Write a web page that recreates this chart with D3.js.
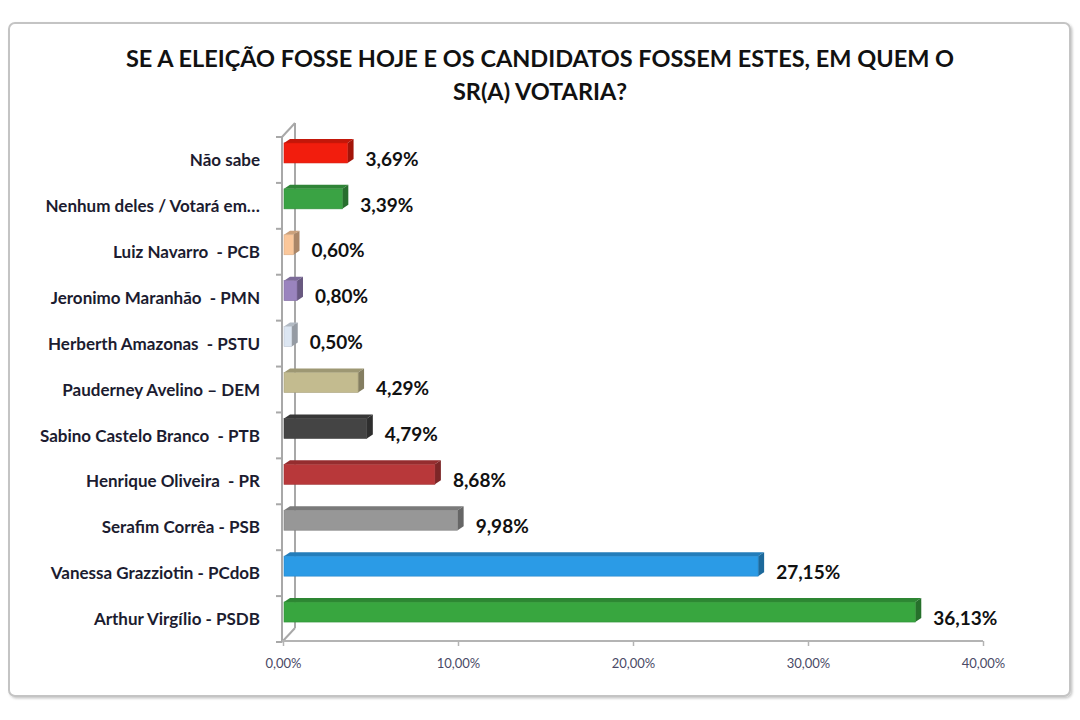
<!DOCTYPE html>
<html lang="pt-BR">
<head>
<meta charset="utf-8">
<title>Se a eleição fosse hoje</title>
<script src="https://cdn.jsdelivr.net/npm/d3@7"></script>
<style>
  html, body { margin: 0; padding: 0; background: #fff; }
  #chart { width: 1080px; height: 720px; }
  .title { font-family: Lato, "Open Sans", sans-serif; font-weight: 700; font-size: 23.5px; fill: #111; }
  .cat-label { font-family: Lato, "Open Sans", sans-serif; font-weight: 700; font-size: 17px; fill: #1c1c30; white-space: pre; }
  .value-label { font-family: Lato, "Open Sans", sans-serif; font-weight: 700; font-size: 19px; fill: #111; }
  .tick-label { font-family: Lato, "Open Sans", sans-serif; font-size: 13px; fill: #4a4a66; }
</style>
</head>
<body>
<div id="chart"></div>
<script>
// values, top row first
const categories = [
  "Não sabe",
  "Nenhum deles / Votará em…",
  "Luiz Navarro  - PCB",
  "Jeronimo Maranhão  - PMN",
  "Herberth Amazonas  - PSTU",
  "Pauderney Avelino – DEM",
  "Sabino Castelo Branco  - PTB",
  "Henrique Oliveira  - PR",
  "Serafim Corrêa - PSB",
  "Vanessa Grazziotin - PCdoB",
  "Arthur Virgílio - PSDB",
];
const values = [3.69, 3.39, 0.6, 0.8, 0.5, 4.29, 4.79, 8.68, 9.98, 27.15, 36.13];
const barColors = [
  "#f21d0d", "#3aa344", "#fbc79a", "#9a84be", "#dce6f2", "#c3bb8f",
  "#444444", "#b8383a", "#979797", "#2b9be6", "#38a63f",
];
const xTicks = [0, 10, 20, 30, 40];
const titleLines = [
  "SE A ELEIÇÃO FOSSE HOJE E OS CANDIDATOS FOSSEM ESTES, EM QUEM O",
  "SR(A) VOTARIA?",
];

const width = 1080;
const height = 720;
const plot = { left: 283, right: 983, top: 137, bottom: 642 };
const wallDepth = { dx: 13, dy: -14 };
const barDepth = { dx: 6, dy: -4 };

const fmt = (v) => d3.format(".2f")(v).replace(".", ",") + "%";

const svg = d3.select("#chart")
  .append("svg")
  .attr("width", width)
  .attr("height", height)
  .attr("viewBox", `0 0 ${width} ${height}`);

const defs = svg.append("defs");
const shadow = defs.append("filter").attr("id", "shadow").attr("x", "-5%").attr("y", "-5%").attr("width", "110%").attr("height", "110%");
shadow.append("feDropShadow").attr("dx", 1.5).attr("dy", 1.5).attr("stdDeviation", 1.3).attr("flood-color", "#000").attr("flood-opacity", 0.22);

// chart frame
svg.append("rect")
  .attr("x", 9).attr("y", 23)
  .attr("width", 1061).attr("height", 673)
  .attr("rx", 6)
  .attr("fill", "#fff")
  .attr("stroke", "#c4c4c4")
  .attr("stroke-width", 2)
  .attr("filter", "url(#shadow)");

svg.append("g")
  .selectAll("text")
  .data(titleLines)
  .join("text")
  .attr("class", "title")
  .attr("x", 540)
  .attr("y", (d, i) => 67 + i * 33)
  .attr("text-anchor", "middle")
  .text((d) => d);

const x = d3.scaleLinear().domain([0, 40]).range([plot.left, plot.right]);
const y = d3.scaleBand().domain(categories).range([plot.top, plot.bottom]);
const bandStep = y.step();
const bandCenter = (c) => y(c) + bandStep / 2;

// wall (3D category axis)
const wallColor = "#a8a8a8";
const wall = svg.append("g").attr("stroke", wallColor).attr("stroke-width", 2).attr("fill", "none");
const fx = plot.left - 1;
wall.append("line").attr("x1", fx).attr("y1", plot.top).attr("x2", fx).attr("y2", plot.bottom);
wall.append("line")
  .attr("x1", fx + wallDepth.dx).attr("y1", plot.top + wallDepth.dy)
  .attr("x2", fx + wallDepth.dx).attr("y2", plot.bottom + wallDepth.dy);
wall.append("line")
  .attr("x1", fx).attr("y1", plot.top)
  .attr("x2", fx + wallDepth.dx).attr("y2", plot.top + wallDepth.dy);
wall.append("line")
  .attr("x1", fx).attr("y1", plot.bottom)
  .attr("x2", fx + wallDepth.dx).attr("y2", plot.bottom + wallDepth.dy);

wall.selectAll(".cat-tick")
  .data(d3.range(categories.length + 1))
  .join("line")
  .attr("class", "cat-tick")
  .attr("x1", fx - 6).attr("x2", fx)
  .attr("y1", (i) => plot.top + i * bandStep)
  .attr("y2", (i) => plot.top + i * bandStep);

// value axis along the floor
const axis = svg.append("g")
  .attr("transform", `translate(0,${plot.bottom - 1})`)
  .call(d3.axisBottom(x).tickValues(xTicks).tickSize(5).tickFormat(fmt))
  .call((g) => g.select(".domain").attr("stroke", "#b4b4b4").attr("stroke-width", 2))
  .call((g) => g.selectAll(".tick line").attr("stroke", "#b4b4b4").attr("stroke-width", 1.5))
  .call((g) => g.selectAll(".tick text").attr("class", "tick-label").attr("dy", "1.45em"));
axis.select(".domain").attr("d", `M${fx},0H${x(40)}`);

// bars drawn as 3D boxes
const barH = 20;
const bars = svg.append("g")
  .selectAll("g")
  .data(categories.map((c, i) => ({ c, v: values[i], color: barColors[i] })))
  .join("g");

const frontY = (d) => bandCenter(d.c) - 7 - barH / 2;
const x0 = x(0) + 1;

bars.append("path")
  .attr("d", (d) => {
    const x1 = x(d.v), t = frontY(d);
    return `M${x0},${t}L${x0 + barDepth.dx},${t + barDepth.dy}L${x1 + barDepth.dx},${t + barDepth.dy}L${x1},${t}Z`;
  })
  .attr("fill", (d) => d3.color(d.color).darker(0.6));

bars.append("path")
  .attr("d", (d) => {
    const x1 = x(d.v), t = frontY(d);
    return `M${x1},${t}L${x1 + barDepth.dx},${t + barDepth.dy}L${x1 + barDepth.dx},${t + barH + barDepth.dy}L${x1},${t + barH}Z`;
  })
  .attr("fill", (d) => d3.color(d.color).darker(1.1));

bars.append("rect")
  .attr("x", x0)
  .attr("y", frontY)
  .attr("width", (d) => Math.max(1, x(d.v) - x0))
  .attr("height", barH)
  .attr("fill", (d) => d.color)
  .attr("stroke", (d) => d3.color(d.color).darker(0.4))
  .attr("stroke-width", 0.6);

bars.append("text")
  .attr("class", "value-label")
  .attr("x", (d) => x(d.v) + barDepth.dx + 12)
  .attr("y", (d) => bandCenter(d.c))
  .attr("dy", "0.3em")
  .text((d) => fmt(d.v));

// category labels
svg.append("g")
  .selectAll("text")
  .data(categories)
  .join("text")
  .attr("class", "cat-label")
  .attr("x", 260)
  .attr("y", (c) => bandCenter(c))
  .attr("dy", "0.36em")
  .attr("text-anchor", "end")
  .text((c) => c);
</script>
</body>
</html>
